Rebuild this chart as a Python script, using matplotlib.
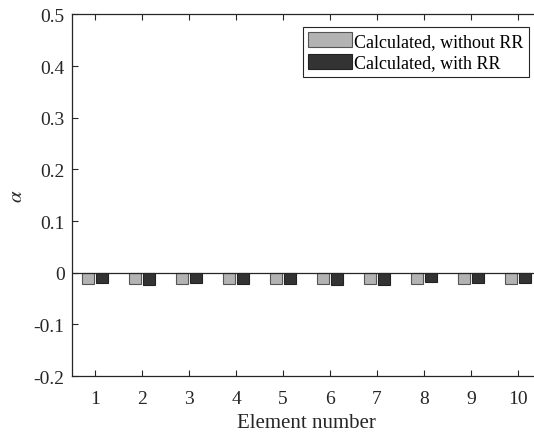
import numpy as np
import matplotlib
matplotlib.use("Agg")
import matplotlib.pyplot as plt

plt.rcParams['font.family'] = ['Liberation Serif', 'DejaVu Serif']
plt.rcParams['mathtext.fontset'] = 'stix'
plt.rcParams['axes.unicode_minus'] = False

elements = np.arange(1, 11)
alpha_without_rr = [-0.021, -0.021, -0.021, -0.021, -0.021, -0.021, -0.021, -0.021, -0.021, -0.021]
alpha_with_rr = [-0.019, -0.023, -0.019, -0.021, -0.021, -0.023, -0.023, -0.017, -0.020, -0.019]

fig = plt.figure(figsize=(5.34, 4.39), dpi=100)
ax = fig.add_axes([0.134, 0.141, 0.880, 0.824])

w = 0.25
ax.bar(elements - 0.145, alpha_without_rr, w, color='#b3b3b3', edgecolor='#555555',
       linewidth=0.8, label='Calculated, without RR')
ax.bar(elements + 0.145, alpha_with_rr, w, color='#333333', edgecolor='#222222',
       linewidth=0.8, label='Calculated, with RR')
ax.axhline(0, color='#262626', linewidth=0.9)

ax.set_xlim(0.5, 10.5)
ax.set_ylim(-0.2, 0.5)
ax.set_xticks(elements)
ax.set_yticks(np.arange(-0.2, 0.51, 0.1))
ax.set_yticklabels(['-0.2', '-0.1', '0', '0.1', '0.2', '0.3', '0.4', '0.5'])
ax.tick_params(direction='in', length=4, width=0.8, labelsize=14, top=True,
               right=False, colors='#262626', labelcolor='#262626')
ax.tick_params(axis='x', pad=10)
ax.tick_params(axis='y', pad=5)
ax.spines['right'].set_visible(False)
for s in ax.spines.values():
    s.set_linewidth(0.9)
    s.set_color('#262626')

ax.set_xlabel('Element number', fontsize=15, color='#262626', labelpad=4)
ax.set_ylabel(r'$\alpha$', fontsize=15, color='#262626', labelpad=5)

leg = ax.legend(loc='upper right', bbox_to_anchor=(529 / 534, 1 - 28 / 439),
                bbox_transform=fig.transFigure, borderaxespad=0, fancybox=False,
                edgecolor='#262626', framealpha=1, fontsize=13, handlelength=2.4,
                handleheight=0.9, handletextpad=0.15, labelspacing=0.2,
                borderpad=0.3)
leg.get_frame().set_linewidth(0.8)

fig.savefig('out.png', dpi=100)
